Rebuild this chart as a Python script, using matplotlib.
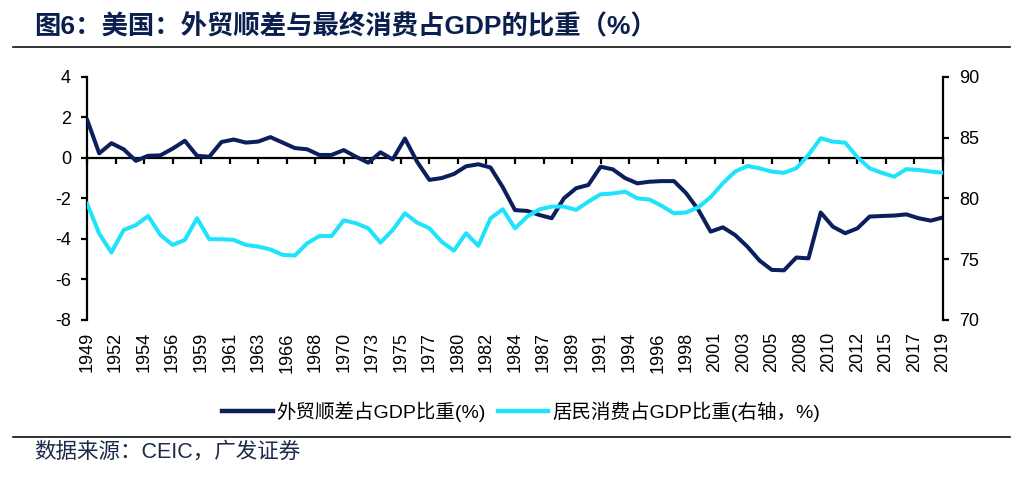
import matplotlib
matplotlib.use("Agg")
import matplotlib.pyplot as plt
from matplotlib.lines import Line2D

plt.rcParams['font.family'] = ['Liberation Sans', 'Noto Sans CJK SC', 'DejaVu Sans']
plt.rcParams['axes.unicode_minus'] = False

years = list(range(1949, 2020))
trade_balance = [
    1.90, 0.22, 0.72, 0.42, -0.15, 0.10, 0.12, 0.45, 0.84, 0.10,
    0.05, 0.78, 0.90, 0.75, 0.80, 1.02, 0.75, 0.48, 0.42, 0.14,
    0.14, 0.38, 0.05, -0.24, 0.27, -0.08, 0.95, -0.20, -1.09, -1.00,
    -0.80, -0.42, -0.32, -0.48, -1.45, -2.58, -2.62, -2.82, -2.98, -2.00,
    -1.50, -1.34, -0.44, -0.57, -1.00, -1.26, -1.18, -1.15, -1.15, -1.75,
    -2.57, -3.64, -3.43, -3.81, -4.38, -5.07, -5.53, -5.55, -4.92, -4.96,
    -2.70, -3.40, -3.72, -3.48, -2.90, -2.87, -2.85, -2.79, -2.98, -3.10,
    -2.94,
]
consumption = [
    79.60, 77.10, 75.55, 77.40, 77.80, 78.55, 77.00, 76.17, 76.58, 78.36,
    76.64, 76.64, 76.58, 76.17, 76.03, 75.80, 75.35, 75.30, 76.30, 76.90,
    76.90, 78.20, 77.95, 77.54, 76.36, 77.40, 78.77, 78.00, 77.54, 76.44,
    75.70, 77.13, 76.10, 78.36, 79.10, 77.54, 78.50, 79.10, 79.32, 79.32,
    79.05, 79.73, 80.33, 80.40, 80.55, 80.00, 79.90, 79.38, 78.77, 78.84,
    79.27, 80.10, 81.24, 82.20, 82.66, 82.47, 82.20, 82.10, 82.47, 83.57,
    84.94, 84.66, 84.58, 83.38, 82.47, 82.10, 81.78, 82.40, 82.33, 82.20,
    82.10,
]
tick_labels = ['1949', '1952', '1954', '1956', '1959', '1961', '1963', '1966',
               '1968', '1970', '1973', '1975', '1977', '1980', '1982', '1984',
               '1987', '1989', '1991', '1994', '1996', '1998', '2001', '2003',
               '2005', '2008', '2010', '2012', '2015', '2017', '2019']
left_ticks = [-8, -6, -4, -2, 0, 2, 4]
right_ticks = [70, 75, 80, 85, 90]

title = '图6：美国：外贸顺差与最终消费占GDP的比重（%）'
name_trade = '外贸顺差占GDP比重(%)'
name_cons = '居民消费占GDP比重(右轴，%)'
source = '数据来源：CEIC，广发证券'

navy = '#0c1f5c'
cyan = '#1fe3fb'

fig = plt.figure(figsize=(10.22, 4.83), dpi=100)
ax = fig.add_axes([0.0851, 0.3375, 0.8376, 0.5037])
ax2 = ax.twinx()

ax.plot(years, trade_balance, color=navy, lw=2.9, solid_joinstyle='round', solid_capstyle='round', zorder=3)
ax2.plot(years, consumption, color=cyan, lw=2.9, solid_joinstyle='round', solid_capstyle='round', zorder=3)

ax.set_xlim(years[0], years[-1])
ax.set_ylim(-8, 4)
ax2.set_ylim(70, 90)
ax.set_yticks(left_ticks)
ax2.set_yticks(right_ticks)

n = len(tick_labels) - 1
span = years[-1] - years[0]
tick_pos = [years[0] + i * span / n for i in range(n + 1)]
ax.set_xticks(tick_pos)
ax.set_xticklabels([])
for p, lab in zip(tick_pos, tick_labels):
    ax.text(p, -0.05, lab, rotation=90, ha='center', va='top', fontsize=13,
            transform=ax.get_xaxis_transform(), color='black')

for s in ['top', 'right']:
    ax.spines[s].set_visible(False)
for s in ['top', 'left', 'bottom']:
    ax2.spines[s].set_visible(False)
ax.spines['bottom'].set_position(('data', 0))
ax.spines['bottom'].set_linewidth(1.6)
ax.spines['left'].set_linewidth(1.6)
ax2.spines['right'].set_linewidth(1.6)

ax.tick_params(axis='x', direction='out', length=4.5, width=1.6)
ax.tick_params(axis='y', direction='out', length=4.5, width=1.6, labelsize=13, pad=7)
ax2.tick_params(axis='y', direction='out', length=4.5, width=1.6, labelsize=13, pad=7)

fig.text(0.033, 0.944, title, fontsize=19, fontweight='bold', color='#0b1f4e',
         ha='left', va='center')
fig.add_artist(Line2D([0.013, 0.988], [0.903, 0.903], transform=fig.transFigure,
                      color='#111111', lw=1.2))
fig.add_artist(Line2D([0.013, 0.988], [0.096, 0.096], transform=fig.transFigure,
                      color='#111111', lw=1.2))
fig.text(0.033, 0.064, source, fontsize=15.5, color='#1b2a4a', ha='left', va='center')

handles = [Line2D([], [], color=navy, lw=3.2), Line2D([], [], color=cyan, lw=3.2)]
fig.legend(handles, [name_trade, name_cons], loc='center', bbox_to_anchor=(0.51, 0.148),
           ncol=2, frameon=False, fontsize=14, handlelength=2.6, handletextpad=0.2,
           columnspacing=0.6)

fig.savefig('out.png', dpi=100)
